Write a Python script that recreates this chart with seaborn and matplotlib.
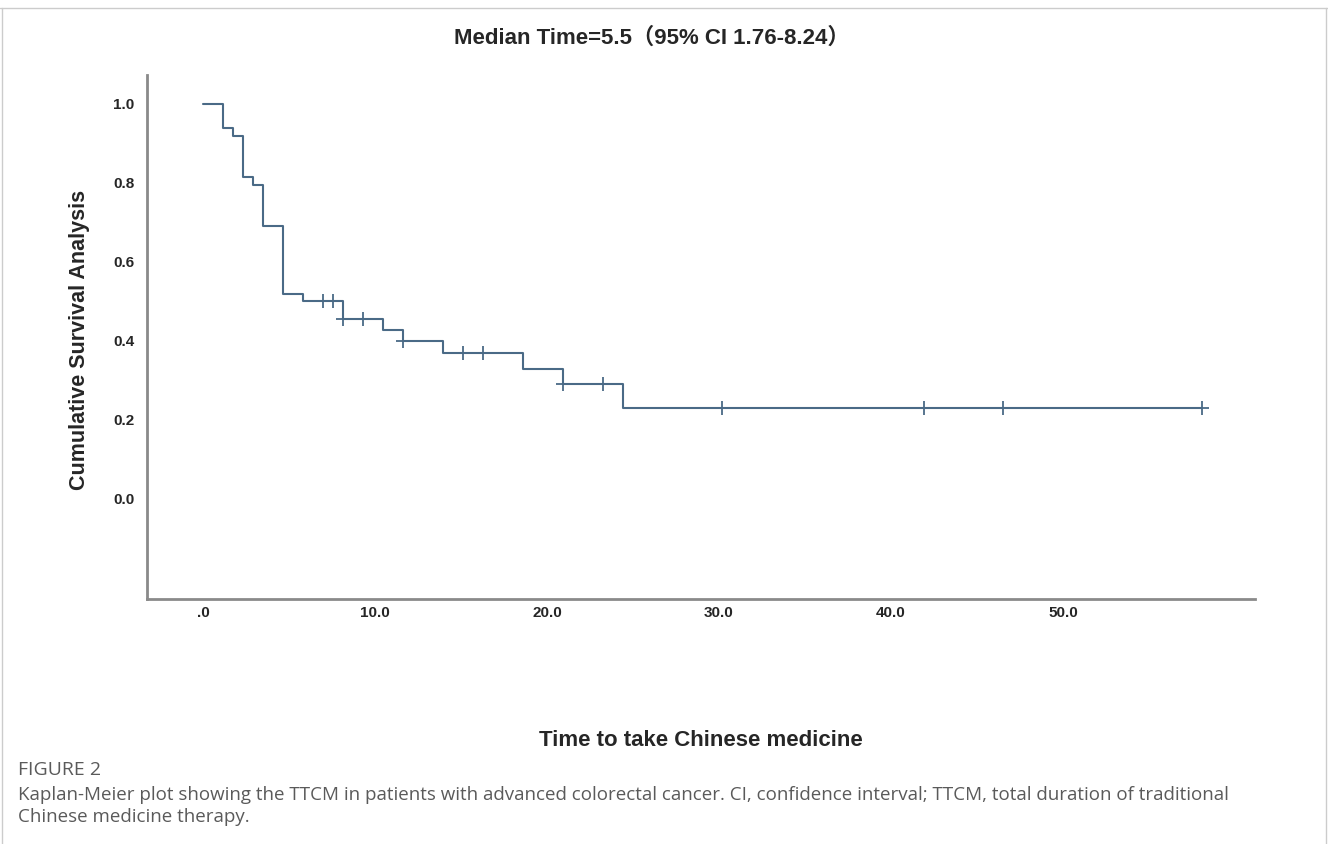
"""
Kaplan-Meier curve: time to take Chinese medicine (TTCM)
"""

import pandas as pd
import matplotlib
matplotlib.use('Agg')
import matplotlib.pyplot as plt
import seaborn as sns

sns.set_style("white")
plt.rcParams['font.family'] = ['Liberation Sans', 'Noto Sans CJK SC', 'DejaVu Sans']

# Survival steps (time, cumulative survival after the event)
step_times = [0, 1.16, 1.74, 2.33, 2.91, 3.49, 4.65, 5.81, 8.14, 10.47, 11.63, 13.95, 18.6, 20.93, 24.42]
step_surv = [1.0, 0.94, 0.92, 0.815, 0.795, 0.69, 0.52, 0.50, 0.455, 0.427, 0.40, 0.37, 0.33, 0.29, 0.23]
last_time = 58.1

# Censored observations
censor_times = [6.98, 7.56, 8.14, 9.3, 11.63, 15.1, 16.3, 20.93, 23.26, 30.2, 41.9, 46.5, 58.1]
censor_surv = [0.50, 0.50, 0.455, 0.455, 0.40, 0.37, 0.37, 0.29, 0.29, 0.23, 0.23, 0.23, 0.23]

x_ticks = [0, 10, 20, 30, 40, 50]
x_ticklabels = ['.0', '10.0', '20.0', '30.0', '40.0', '50.0']
y_ticks = [0.0, 0.2, 0.4, 0.6, 0.8, 1.0]
y_ticklabels = ['0.0', '0.2', '0.4', '0.6', '0.8', '1.0']

title = 'Median Time=5.5（95% CI 1.76-8.24）'
x_label = 'Time to take Chinese medicine'
y_label = 'Cumulative Survival Analysis'
fig_label = 'FIGURE 2'
caption = ('Kaplan-Meier plot showing the TTCM in patients with advanced colorectal cancer. '
           'CI, confidence interval; TTCM, total duration of traditional\nChinese medicine therapy.')

CURVE = '#4a6a86'
SPINE = '#8a8a8a'

steps = pd.DataFrame({'time': step_times + [last_time],
                      'surv': step_surv + [step_surv[-1]]})
censored = pd.DataFrame({'time': censor_times, 'surv': censor_surv})

W, H = 1328, 844
fig = plt.figure(figsize=(W / 100, H / 100), dpi=100)
ax = fig.add_axes([147 / W, 1 - 599 / H, (1255 - 147) / W, (599 - 75) / H])

sns.lineplot(data=steps, x='time', y='surv', ax=ax, drawstyle='steps-post',
             estimator=None, sort=False, color=CURVE, linewidth=1.5)
sns.scatterplot(data=censored, x='time', y='surv', ax=ax, marker='+', s=90,
                color=CURVE, linewidth=1.3, zorder=3)

ax.set_xlim(-3.26, 61.16)
ax.set_ylim(-0.2532, 1.0734)
ax.set_xticks(x_ticks)
ax.set_xticklabels(x_ticklabels, fontsize=11, fontweight='bold')
ax.set_yticks(y_ticks)
ax.set_yticklabels(y_ticklabels, fontsize=11, fontweight='bold')
ax.tick_params(axis='x', length=0, pad=5)
ax.tick_params(axis='y', length=0, pad=9)
ax.set_xlabel('')
ax.set_ylabel('')

for side in ['top', 'right']:
    ax.spines[side].set_visible(False)
for side in ['left', 'bottom']:
    ax.spines[side].set_color(SPINE)
    ax.spines[side].set_linewidth(2)

fig.text(652 / W, 1 - 38 / H, title, ha='center', va='center', fontsize=16, fontweight='bold')
fig.text(701 / W, 1 - 740 / H, x_label, ha='center', va='center', fontsize=16, fontweight='bold')
fig.text(80 / W, 1 - 340 / H, y_label, ha='center', va='center', rotation=90,
         fontsize=15.5, fontweight='bold')

fig.text(18 / W, 1 - 770 / H, fig_label, ha='left', va='center', fontsize=14,
         color='#5a5a5a', family=['Open Sans', 'DejaVu Sans'])
fig.text(18 / W, 1 - 806 / H, caption, ha='left', va='center', fontsize=13.5,
         color='#5a5a5a', linespacing=1.3, family=['Open Sans', 'DejaVu Sans'])

# page frame around the figure
frame = dict(color='#cccccc', linewidth=1, transform=fig.transFigure)
fig.add_artist(plt.Line2D([0, 1], [1 - 8 / H, 1 - 8 / H], **frame))
fig.add_artist(plt.Line2D([2 / W, 2 / W], [0, 1 - 8 / H], **frame))
fig.add_artist(plt.Line2D([1 - 2 / W, 1 - 2 / W], [0, 1 - 8 / H], **frame))

fig.savefig('out.png', dpi=100)
plt.close(fig)
